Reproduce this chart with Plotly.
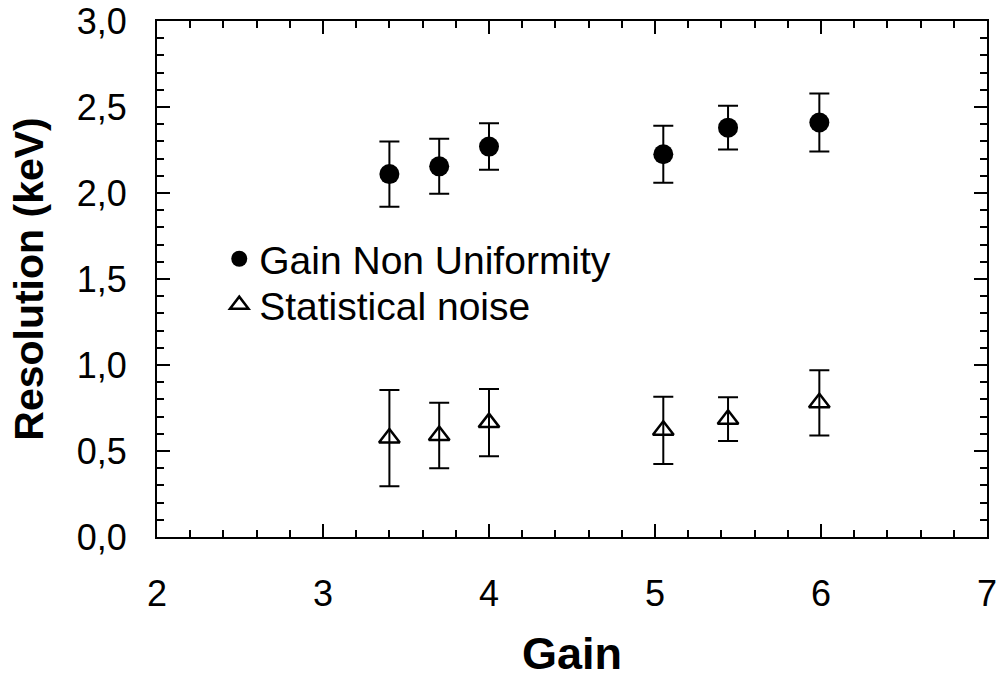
import plotly.graph_objects as go

gain = [3.4, 3.7, 4.0, 5.05, 5.44, 5.99]
gnu_res = [2.11, 2.155, 2.27, 2.225, 2.38, 2.41]
gnu_err = [0.19, 0.16, 0.135, 0.166, 0.127, 0.168]
stat_res = [0.575, 0.59, 0.665, 0.62, 0.685, 0.78]
stat_err = [0.28, 0.19, 0.195, 0.195, 0.127, 0.19]

x_ticks = [2, 3, 4, 5, 6, 7]
y_ticks = [0.0, 0.5, 1.0, 1.5, 2.0, 2.5, 3.0]

font_family = "Liberation Sans, Arial, sans-serif"

fig = go.Figure()
fig.add_trace(go.Scatter(
    x=gain, y=gnu_res, mode="markers", name="Gain Non Uniformity",
    legend="legend",
    marker=dict(symbol="circle", size=20, color="black"),
    error_y=dict(type="data", array=gnu_err, visible=True, color="black",
                 thickness=2, width=10),
))
fig.add_trace(go.Scatter(
    x=gain, y=stat_res, mode="markers", name="Statistical noise",
    legend="legend2",
    marker=dict(symbol="triangle-up-open", size=18, color="black",
                line=dict(width=2.5, color="black")),
    error_y=dict(type="data", array=stat_err, visible=True, color="black",
                 thickness=2, width=10),
))

axis_common = dict(
    showline=True, linecolor="black", linewidth=2, mirror="allticks",
    ticks="inside", ticklen=13, tickwidth=1.5, tickcolor="black",
    showgrid=False, zeroline=False, automargin=False,
    tickfont=dict(family=font_family, size=36, color="black"),
)

fig.update_xaxes(
    range=[2, 7], tickvals=x_ticks, ticklabelstandoff=24,
    minor=dict(ticks="inside", ticklen=7, dtick=0.2, tickwidth=1.5,
               tickcolor="black", showgrid=False),
    title=dict(text="<b>Gain</b>", font=dict(family=font_family, size=45, color="black"),
               standoff=24),
    **axis_common,
)
fig.update_yaxes(
    range=[0, 3], tickvals=y_ticks, tickformat=".1f", ticklabelstandoff=21,
    minor=dict(ticks="inside", ticklen=7, dtick=0.1, tickwidth=1.5,
               tickcolor="black", showgrid=False),
    title=dict(text="<b>Resolution (keV)</b>", font=dict(family=font_family, size=41, color="black"),
               standoff=20),
    **axis_common,
)

legend_common = dict(
    x=0.075, xanchor="left", yanchor="middle",
    font=dict(family=font_family, size=39, color="black"),
    bgcolor="rgba(0,0,0,0)", itemwidth=30,
)

fig.update_layout(
    width=1002, height=679,
    margin=dict(l=157, r=15, t=21, b=142),
    plot_bgcolor="white", paper_bgcolor="white",
    separators=",.",
    showlegend=True,
    legend=dict(y=0.539, **legend_common),
    legend2=dict(y=0.45, **legend_common),
)

fig.write_html("out.html")
